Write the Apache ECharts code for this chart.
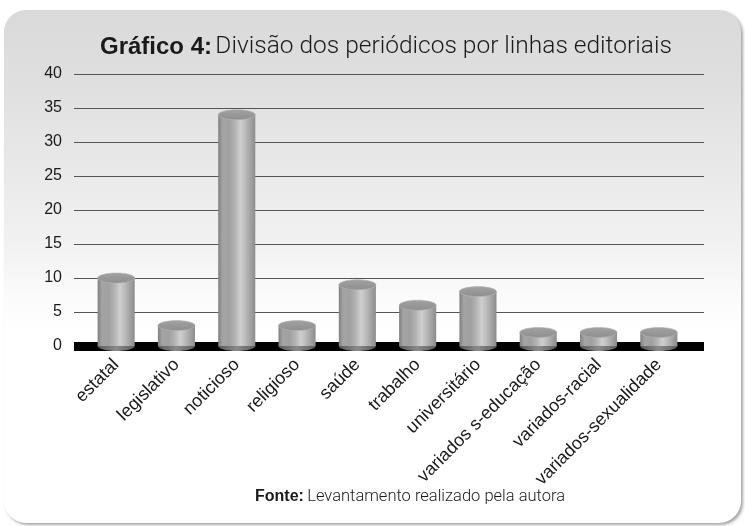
<!DOCTYPE html>
<html>
<head>
<meta charset="utf-8">
<script src="https://cdn.jsdelivr.net/npm/echarts@6/dist/echarts.min.js"></script>
<style>
html,body{margin:0;padding:0;background:#ffffff;}
#chart{width:745px;height:526px;}
</style>
</head>
<body>
<div id="chart"></div>
<script>
const categories = ['estatal','legislativo','noticioso','religioso','saúde','trabalho','universitário','variados s-educação','variados-racial','variados-sexualidade'];
const values = [10, 3, 34, 3, 9, 6, 8, 2, 2, 2];
const yMin = 0, yMax = 40, yStep = 5;
const titleBold = 'Gráfico 4:';
const titleText = 'Divisão dos periódicos por linhas editoriais';
const sourceBold = 'Fonte:';
const sourceText = 'Levantamento realizado pela autora';

const chart = echarts.init(document.getElementById('chart'), null, {renderer:'canvas'});

const SANS = '"Liberation Sans",Arial,sans-serif';
const LIGHT = 'Roboto,"Liberation Sans",sans-serif';

const bodyGrad = {type:'linear', x:0, y:0, x2:1, y2:0, colorStops:[
  {offset:0, color:'#808080'}, {offset:0.12, color:'#a4a4a4'}, {offset:0.3, color:'#a0a0a0'},
  {offset:0.45, color:'#b3b3b3'}, {offset:0.6, color:'#cfcfcf'}, {offset:0.7, color:'#c0c0c0'},
  {offset:0.85, color:'#a6a6a6'}, {offset:1, color:'#8c8c8c'}]};
const bottomGrad = {type:'linear', x:0, y:0, x2:1, y2:0, colorStops:[
  {offset:0, color:'#5a5a5a'}, {offset:0.5, color:'#8a8a8a'}, {offset:1, color:'#5e5e5e'}]};
const topGrad = {type:'linear', x:0, y:0, x2:0, y2:1, colorStops:[
  {offset:0, color:'#a2a2a2'}, {offset:1, color:'#8e8e8e'}]};

function renderCyl(params, api){
  const idx = api.value(0), v = api.value(1);
  const top = api.coord([idx, v]);
  const base = api.coord([idx, 0]);
  const w = api.size([1, 0])[0] * 0.615;
  const rx = w / 2, ry = 5;
  return {type:'group', children:[
    {type:'ellipse', shape:{cx:base[0], cy:base[1], rx:rx, ry:ry}, style:{fill:bottomGrad}},
    {type:'rect', shape:{x:top[0]-rx, y:top[1], width:w, height:base[1]-top[1]}, style:{fill:bodyGrad}},
    {type:'ellipse', shape:{cx:top[0], cy:top[1], rx:rx, ry:ry}, style:{fill:topGrad, stroke:'#b4b4b4', lineWidth:0.6}}
  ]};
}

const option = {
  animation:false,
  graphic:{elements:[
    {type:'rect', z:-100, shape:{x:4, y:10, width:737, height:513, r:22},
     style:{fill:{type:'linear', x:0, y:0, x2:0, y2:1, colorStops:[
       {offset:0, color:'#dadada'}, {offset:0.12, color:'#dedede'}, {offset:0.45, color:'#f1f1f1'},
       {offset:0.56, color:'#fbfbfb'}, {offset:0.62, color:'#ffffff'}, {offset:1, color:'#ffffff'}]},
       shadowColor:'rgba(0,0,0,0.35)', shadowBlur:3, shadowOffsetX:2, shadowOffsetY:2}},
    {type:'text', z:10, x:100, y:47, style:{
      text:'{b|' + titleBold + '} {l|' + titleText + '}', verticalAlign:'middle',
      rich:{b:{fontFamily:SANS, fontWeight:'bold', fontSize:24, fill:'#1a1a1a'},
            l:{fontFamily:LIGHT, fontWeight:300, fontSize:24.5, fill:'#1a1a1a'}}}},
    {type:'text', z:10, x:255, y:497, style:{
      text:'{b|' + sourceBold + '} {l|' + sourceText + '}', verticalAlign:'middle',
      rich:{b:{fontFamily:SANS, fontWeight:'bold', fontSize:16, fill:'#1a1a1a'},
            l:{fontFamily:LIGHT, fontWeight:300, fontSize:16.5, fill:'#1a1a1a'}}}}
  ]},
  grid:[
    {left:74, right:41, top:74, bottom:180},
    {left:86, right:56, top:74, bottom:180},
    {left:86, right:56, top:74, bottom:180}
  ],
  xAxis:[
    {gridIndex:0, type:'value', min:0, max:1, axisLine:{show:true, onZero:false, lineStyle:{color:'#000', width:9, cap:'butt'}},
     axisTick:{show:false}, axisLabel:{show:false}, splitLine:{show:false}},
    {gridIndex:1, type:'category', data:categories, show:false},
    {gridIndex:2, type:'category', data:categories, axisLine:{show:false}, axisTick:{show:false},
     axisLabel:{rotate:45, margin:16, interval:0, fontFamily:SANS, fontSize:18, color:'#1a1a1a'}}
  ],
  yAxis:[
    {gridIndex:0, type:'value', min:yMin, max:yMax, interval:yStep,
     axisLine:{show:false}, axisTick:{show:false},
     axisLabel:{margin:12, fontFamily:SANS, fontSize:16, color:'#1a1a1a'},
     splitLine:{show:true, lineStyle:{color:'#555', width:1}}},
    {gridIndex:1, type:'value', min:yMin, max:yMax, show:false},
    {gridIndex:2, type:'value', min:yMin, max:yMax, show:false}
  ],
  series:[
    {type:'custom', xAxisIndex:1, yAxisIndex:1, renderItem:renderCyl, z:5,
     encode:{x:0, y:1}, data:values.map((v,i)=>[i, v])}
  ]
};
chart.setOption(option);
</script>
</body>
</html>
